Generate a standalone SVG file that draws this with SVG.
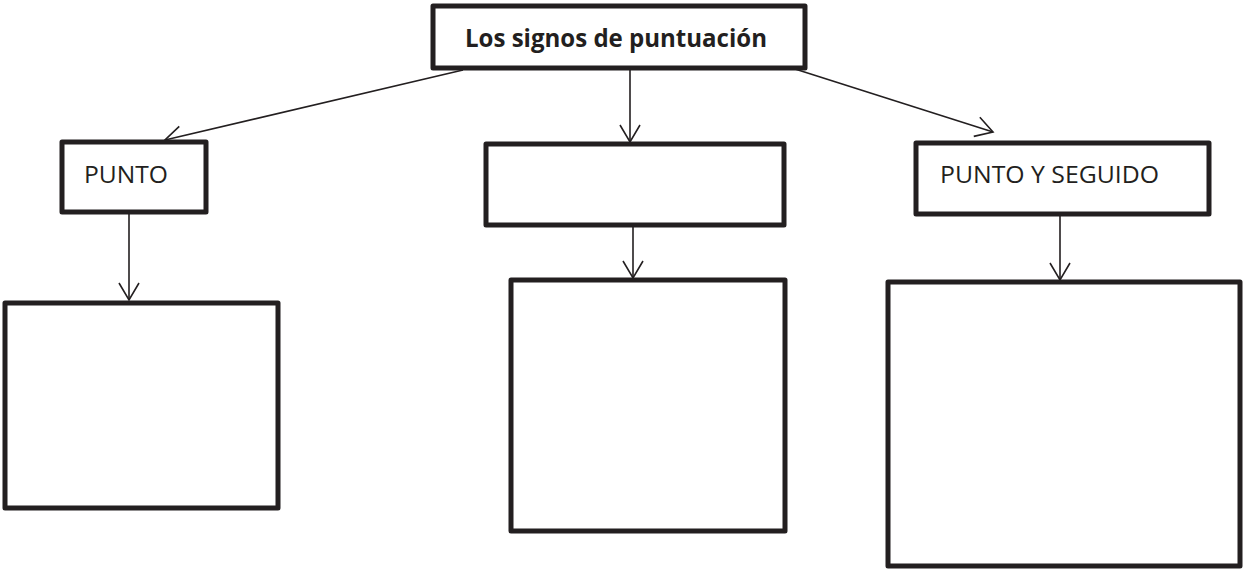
<svg xmlns="http://www.w3.org/2000/svg" width="1244" height="569" viewBox="0 0 1244 569">
<style>
.box{fill:#fff;stroke:#231f20;stroke-width:5;stroke-linejoin:round}
.con{fill:none;stroke:#231f20;stroke-width:1.6}
.lbl{font-family:"Open Sans","Liberation Sans",Arial,sans-serif;font-size:24px;fill:#231f20}
.ttl{font-family:"Open Sans","Liberation Sans",Arial,sans-serif;font-size:25px;font-weight:bold;fill:#231f20}
</style>
<defs>
<marker id="arr" markerUnits="userSpaceOnUse" markerWidth="30" markerHeight="30" refX="0" refY="0" viewBox="-20 -15 25 30" orient="auto" overflow="visible">
<path d="M-17,-10 L0,0 L-17,10" fill="none" stroke="#231f20" stroke-width="1.6"/>
</marker>
</defs>
<rect width="1244" height="569" fill="#fff"/>
<g id="connectors">
<line class="con" x1="463" y1="70" x2="165" y2="140" marker-end="url(#arr)"/>
<line class="con" x1="630" y1="70" x2="630" y2="142" marker-end="url(#arr)"/>
<line class="con" x1="795" y1="69" x2="993" y2="132" marker-end="url(#arr)"/>
<line class="con" x1="129" y1="214" x2="129" y2="300" marker-end="url(#arr)"/>
<line class="con" x1="633" y1="227" x2="633" y2="278" marker-end="url(#arr)"/>
<line class="con" x1="1060" y1="216" x2="1060" y2="280" marker-end="url(#arr)"/>
</g>
<g id="title">
<rect class="box" x="433" y="6" width="372" height="62"/>
<text class="ttl" x="616" y="47" text-anchor="middle" textLength="302" lengthAdjust="spacingAndGlyphs">Los signos de puntuación</text>
</g>
<g id="punto">
<rect class="box" x="62" y="142" width="144" height="70"/>
<text class="lbl" x="84" y="183" textLength="84" lengthAdjust="spacingAndGlyphs">PUNTO</text>
</g>
<g id="middle">
<rect class="box" x="486" y="144" width="298" height="81"/>
</g>
<g id="puntoyseguido">
<rect class="box" x="916" y="143" width="293" height="71"/>
<text class="lbl" x="940" y="183" textLength="219" lengthAdjust="spacingAndGlyphs">PUNTO Y SEGUIDO</text>
</g>
<g id="left-bottom">
<rect class="box" x="5" y="303" width="273" height="205"/>
</g>
<g id="middle-bottom">
<rect class="box" x="511" y="280" width="274" height="251"/>
</g>
<g id="right-bottom">
<rect class="box" x="888" y="282" width="352" height="284"/>
</g>
</svg>
